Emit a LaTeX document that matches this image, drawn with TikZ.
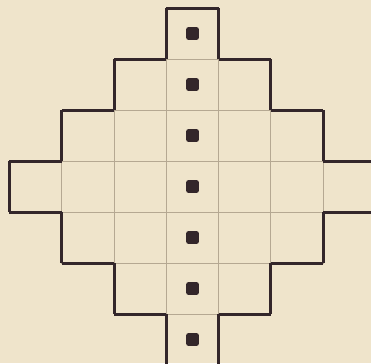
\documentclass[tikz,border=0pt]{standalone}
\definecolor{paper}{HTML}{EFE4CB}
\definecolor{inkdark}{HTML}{33262A}
\definecolor{gridgray}{HTML}{B5A892}

\begin{document}
\begin{tikzpicture}[
    x=26.15pt, y=-25.5pt,
    cell/.style={draw=gridgray, line width=0.5pt},
    rim/.style={draw=inkdark, line width=1.5pt},
    dot/.style={fill=inkdark, rounded corners=1pt, minimum size=6.3pt, inner sep=0pt}
]
% page and background
\clip (-3.681,-0.157) rectangle (3.413,6.961);
\fill[paper] (-3.681,-0.157) rectangle (3.413,6.961);
% rows of cells, widths 1,3,5,7,5,3,1
\foreach \r in {0,...,6}{
  \pgfmathtruncatemacro{\n}{3-abs(\r-3)}
  \pgfmathtruncatemacro{\m}{-\n}
  \foreach \c in {\m,...,\n}
    \draw[cell] (\c-0.5,\r) rectangle (\c+0.5,\r+1);
  % outer side edges
  \draw[rim] (-\n-0.5,\r) -- (-\n-0.5,\r+1);
  \draw[rim] (\n+0.5,\r) -- (\n+0.5,\r+1);
  % marker in the middle column
  \node[dot] (mark\r) at (0,\r+0.5) {};
}
% top of the first row
\draw[rim] (-0.5,0) -- (0.5,0);
% steps of the upper half
\foreach \r/\n in {1/1, 2/2, 3/3}{
  \draw[rim] (-\n-0.5,\r) -- (-\n+0.5,\r);
  \draw[rim] (\n-0.5,\r) -- (\n+0.5,\r);
}
% steps of the lower half
\foreach \r/\n in {4/3, 5/2, 6/1}{
  \draw[rim] (-\n-0.5,\r) -- (-\n+0.5,\r);
  \draw[rim] (\n-0.5,\r) -- (\n+0.5,\r);
}
\end{tikzpicture}
\end{document}
